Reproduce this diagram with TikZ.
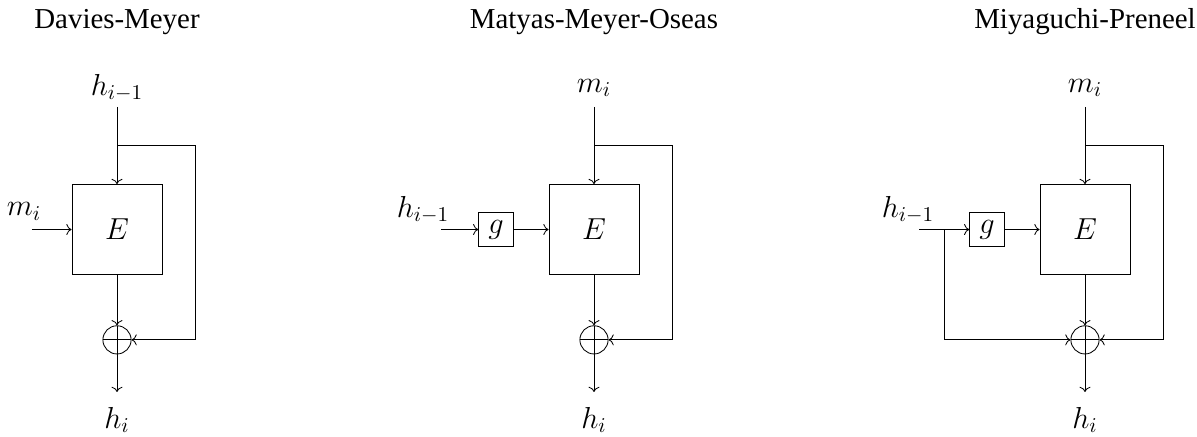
\documentclass[tikz,border=0pt]{standalone}
\usepackage[no-math]{fontspec}
\setmainfont{Liberation Serif}
\usetikzlibrary{arrows.meta, positioning}

\begin{document}
\begin{tikzpicture}[
        node distance=0.84cm,
        every node/.style={font=\fontsize{13.7}{16}\selectfont},
        cipher/.style={draw, rectangle, minimum size=1.5cm, inner sep=0pt},
        keymap/.style={draw, rectangle, minimum size=0.58cm, inner sep=0pt},
        xor/.style={draw, circle, minimum size=0.47cm, inner sep=0pt,
            path picture={\draw (path picture bounding box.west) -- (path picture bounding box.east)
                (path picture bounding box.north) -- (path picture bounding box.south);}},
        wire/.style={->}
    ]
        \useasboundingbox (0,0) rectangle (19.95,-7.283);

        % Davies-Meyer
        \node (dm-title) at (1.95,-0.367) {Davies-Meyer};
        \node[cipher] (dm-E) at (1.95,-3.825) {$E$};
        \node[xor, below=of dm-E] (dm-xor) {};
        \node (dm-hin) at (1.95,-1.467) {$h_{i-1}$};
        \node (dm-m) at (0.4,-3.52) {$m_i$};
        \node (dm-hout) at (1.95,-7.0) {$h_i$};
        \coordinate (dm-top) at (1.95,-1.783);
        \coordinate (dm-split) at (1.95,-2.417);
        \coordinate (dm-in) at (0.533,-3.825);
        \coordinate (dm-end) at (1.95,-6.533);

        \draw[wire] (dm-top) -- (dm-E.north);
        \draw[wire] (dm-split) -- ++(1.3,0) |- (dm-xor.east);
        \draw[wire] (dm-in) -- (dm-E.west);
        \draw[wire] (dm-E.south) -- (dm-xor.north);
        \draw[wire] (dm-xor.south) -- (dm-end);

        % Matyas-Meyer-Oseas
        \node (mmo-title) at (9.9,-0.367) {Matyas-Meyer-Oseas};
        \node[cipher] (mmo-E) at (9.9,-3.825) {$E$};
        \node[keymap, left=0.577cm of mmo-E] (mmo-g) {$g$};
        \node[xor, below=of mmo-E] (mmo-xor) {};
        \node (mmo-m) at (9.9,-1.467) {$m_i$};
        \node (mmo-hin) at (7.05,-3.5) {$h_{i-1}$};
        \node (mmo-hout) at (9.9,-7.0) {$h_i$};
        \coordinate (mmo-top) at (9.9,-1.783);
        \coordinate (mmo-split) at (9.9,-2.417);
        \coordinate (mmo-in) at (7.35,-3.825);
        \coordinate (mmo-end) at (9.9,-6.533);

        \draw[wire] (mmo-top) -- (mmo-E.north);
        \draw[wire] (mmo-split) -- ++(1.3,0) |- (mmo-xor.east);
        \draw[wire] (mmo-in) -- (mmo-g.west);
        \draw[wire] (mmo-g.east) -- (mmo-E.west);
        \draw[wire] (mmo-E.south) -- (mmo-xor.north);
        \draw[wire] (mmo-xor.south) -- (mmo-end);

        % Miyaguchi-Preneel
        \node (mp-title) at (18.083,-0.367) {Miyaguchi-Preneel};
        \node[cipher] (mp-E) at (18.083,-3.825) {$E$};
        \node[keymap, left=0.577cm of mp-E] (mp-g) {$g$};
        \node[xor, below=of mp-E] (mp-xor) {};
        \node (mp-m) at (18.083,-1.467) {$m_i$};
        \node (mp-hin) at (15.133,-3.5) {$h_{i-1}$};
        \node (mp-hout) at (18.083,-7.0) {$h_i$};
        \coordinate (mp-top) at (18.083,-1.783);
        \coordinate (mp-split) at (18.083,-2.417);
        \coordinate (mp-in) at (15.317,-3.825);
        \coordinate (mp-fork) at (15.733,-3.825);
        \coordinate (mp-end) at (18.083,-6.533);

        \draw[wire] (mp-top) -- (mp-E.north);
        \draw[wire] (mp-split) -- ++(1.3,0) |- (mp-xor.east);
        \draw[wire] (mp-in) -- (mp-g.west);
        \draw[wire] (mp-fork) |- (mp-xor.west);
        \draw[wire] (mp-g.east) -- (mp-E.west);
        \draw[wire] (mp-E.south) -- (mp-xor.north);
        \draw[wire] (mp-xor.south) -- (mp-end);
    \end{tikzpicture}
\end{document}
